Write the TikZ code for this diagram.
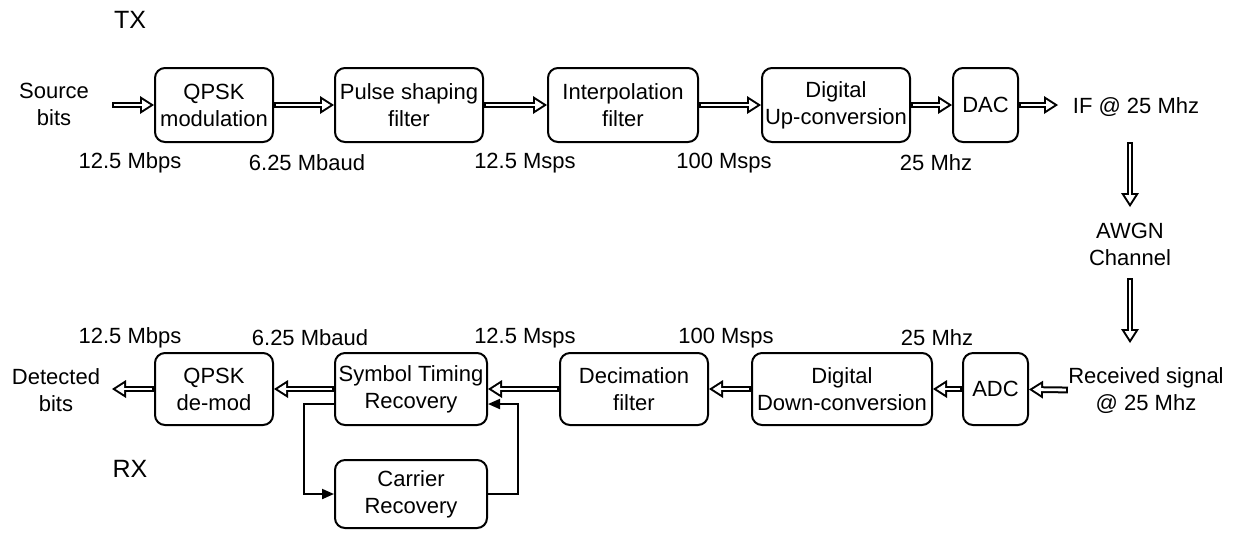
\documentclass[tikz,border=0pt]{standalone}
\usepackage{fontspec}
\setmainfont{Liberation Sans}
\usetikzlibrary{arrows.meta,positioning}

\begin{document}
\begin{tikzpicture}[x=0.5pt, y=-0.5pt, font=\fontsize{11}{13.5}\selectfont,
  blk/.style={draw, line width=1pt, rounded corners=5pt, align=center, inner sep=1pt, minimum height=37pt},
  txt/.style={align=center, inner sep=0pt},
  hollow/.style={line width=3.4pt, -{Triangle[length=7pt, width=9pt, line width=0pt]},
    postaction={draw=white, line width=1.4pt, shorten <=1pt, shorten >=1.85pt,
      -{Triangle[length=4.15pt, width=5.3pt, line width=0pt]}}},
  fb/.style={line width=1pt, -{Triangle[length=6pt, width=5pt]}}]
  \useasboundingbox (0,0) rectangle (1240,532);

  % Transmitter
  \node[font=\fontsize{12.5}{15}\selectfont, txt] (tx) at (130,20) {TX};
  \node[txt] (src) at (54,104) {Source\\bits};
  \node[blk, minimum width=59pt] (qpsk) at (214,105) {QPSK\\modulation};
  \node[blk, minimum width=74pt] (pulse) at (409,105) {Pulse shaping\\filter};
  \node[blk, minimum width=75pt] (interp) at (623,105) {Interpolation\\filter};
  \node[blk, minimum width=74pt] (dup) at (836,105) {Digital\\Up-conversion};
  \node[blk, minimum width=32.5pt] (dac) at (985.5,105) {DAC};
  \node[txt] (iftxt) at (1136,107) {IF @ 25 Mhz};
  \coordinate (srcout) at (112,105);
  \coordinate (ifin) at (1058,105);

  \draw[hollow] (srcout) -- (qpsk);
  \foreach \a/\b in {qpsk/pulse, pulse/interp, interp/dup, dup/dac}
    \draw[hollow] (\a) -- (\b);
  \draw[hollow] (dac) -- (ifin);

  \foreach \x/\t [count=\i] in {130/12.5 Mbps, 307/6.25 Mbaud, 525/12.5 Msps, 724/100 Msps, 936/25 Mhz}
    \node[txt] (tr\i) at (\x,163) {\t};

  % Channel
  \node[txt] (awgn) at (1130,244) {AWGN\\Channel};
  \coordinate (ch1a) at (1130,142);
  \coordinate (ch1b) at (1130,207);
  \coordinate (ch2a) at (1130,278);
  \coordinate (ch2b) at (1130,343);
  \draw[hollow] (ch1a) -- (ch1b);
  \draw[hollow] (ch2a) -- (ch2b);

  % Receiver
  \node[txt] (recv) at (1146,391) {Received signal\\@ 25 Mhz};
  \node[blk, minimum width=32.5pt, minimum height=36pt] (adc) at (995.5,389) {ADC};
  \node[blk, minimum width=90pt, minimum height=36pt] (ddown) at (842,389) {Digital\\Down-conversion};
  \node[blk, minimum width=74pt, minimum height=36pt] (dec) at (634,389) {Decimation\\filter};
  \node[blk, minimum width=76pt, minimum height=36pt] (stim) at (411,389) {Symbol Timing\\Recovery};
  \node[blk, minimum width=59pt, minimum height=36pt] (qdem) at (214,389) {QPSK\\de-mod};
  \node[blk, minimum width=76pt, minimum height=34pt] (car) at (411,494) {Carrier\\Recovery};
  \node[txt] (det) at (56,390) {Detected\\bits};
  \node[font=\fontsize{12.5}{15}\selectfont, txt] (rx) at (130,469) {RX};
  \coordinate (detin) at (112,389);

  \foreach \a/\b in {recv/adc, adc/ddown, ddown/dec, dec/stim, stim/qdem}
    \draw[hollow] (\a) -- (\b);
  \draw[hollow] (qdem) -- (detin);

  \foreach \x/\t [count=\i] in {130/12.5 Mbps, 310/6.25 Mbaud, 525/12.5 Msps, 726/100 Msps, 937/25 Mhz}
    \node[txt] (rr\i) at (\x,338) {\t};

  % carrier loop
  \draw[fb] ([yshift=-7.5pt]stim.west) -- ++(-30,0) |- (car.west);
  \draw[fb] (car.east) -- ++(30,0) |- ([yshift=-7.5pt]stim.east);
\end{tikzpicture}
\end{document}
